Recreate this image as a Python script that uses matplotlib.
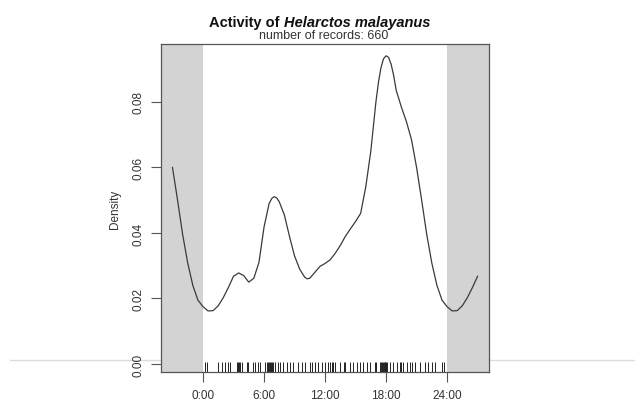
import numpy as np
import matplotlib
matplotlib.use('Agg')
import matplotlib.pyplot as plt
from matplotlib.lines import Line2D

plt.rcParams['font.family'] = ['Liberation Sans', 'DejaVu Sans']

# density (hour of day, density)
hours = [0.0, 0.5, 1.0, 1.5, 2.0, 2.5, 3.0, 3.5, 4.0, 4.5, 5.0, 5.5, 6.0,
         6.5, 6.75, 7.0, 7.25, 7.5, 8.0, 8.5, 9.0, 9.5, 10.0, 10.25, 10.5,
         11.0, 11.5, 12.0, 12.5, 13.0, 13.5, 14.0, 14.5, 15.0, 15.5, 16.0,
         16.5, 16.75, 17.0, 17.25, 17.5, 17.75, 18.0, 18.25, 18.5, 18.75,
         19.0, 19.5, 20.0, 20.5, 21.0, 21.5, 22.0, 22.5, 23.0, 23.5, 24.0]
density = [0.0175, 0.0162, 0.0163, 0.0178, 0.0203, 0.0234, 0.0268, 0.0278,
           0.0270, 0.0250, 0.0262, 0.0310, 0.0418, 0.0490, 0.0505, 0.0511,
           0.0507, 0.0495, 0.0455, 0.0390, 0.0330, 0.0290, 0.0265, 0.0260,
           0.0262, 0.0280, 0.0298, 0.0307, 0.0318, 0.0338, 0.0362, 0.0390,
           0.0413, 0.0435, 0.0460, 0.0540, 0.0650, 0.0725, 0.0800, 0.0860,
           0.0905, 0.0932, 0.0941, 0.0936, 0.0915, 0.0880, 0.0835, 0.0785,
           0.0740, 0.0685, 0.0600, 0.0500, 0.0395, 0.0308, 0.0240, 0.0195,
           0.0175]

# record times (hours) as seen in the rug
records = [0.2, 0.43, 1.5, 1.83, 2.16, 2.49, 2.65,
           3.31, 3.47, 3.55, 3.64, 3.8,
           4.3, 4.46, 4.95, 5.11, 5.44, 5.6,
           6.1, 6.25, 6.4, 6.5, 6.6, 6.7, 6.8, 6.9, 7.08,
           7.4, 7.57, 7.9, 8.23, 8.55, 8.88, 9.37, 9.7, 10.03, 10.52, 10.69,
           11.01, 11.34, 11.67,
           12.0, 12.32, 12.45, 12.65, 12.8, 12.98,
           13.47, 13.9, 14.0, 14.45, 14.78, 15.11, 15.44, 15.76, 16.1, 16.42,
           16.91, 17.0, 17.4, 17.5, 17.57, 17.65, 17.75, 17.85, 17.9, 18.0,
           18.1, 18.39, 18.71,
           19.05, 19.37, 19.5, 19.7, 20.03, 20.35, 20.5, 20.85, 21.34,
           21.83, 22.15, 22.49, 22.81, 23.47, 23.7]

xticks = [0, 6, 12, 18, 24]
xlabels = ['0:00', '6:00', '12:00', '18:00', '24:00']
yticks = [0.00, 0.02, 0.04, 0.06, 0.08]
n_records = 660

# circular data: extend 3 hours on each side
h = np.asarray(hours)
d = np.asarray(density)
xs = np.concatenate([h[h >= 21] - 24, h[1:], h[(h > 0) & (h <= 3)] + 24])
ys = np.concatenate([d[h >= 21], d[1:], d[(h > 0) & (h <= 3)]])

fig = plt.figure(figsize=(6.35, 4.02), dpi=100)
fig.add_artist(Line2D([10/635, 1], [1 - 361/402, 1 - 361/402], color='#dcdcdc',
                      lw=1, zorder=-5))
ax = fig.add_axes([161/635, 1 - 373/402, 328/635, 328/402])

xmin, xmax = -4.13, 28.12
ax.set_xlim(xmin, xmax)
ax.set_ylim(-0.00244, 0.0977)
ax.axvspan(xmin, 0, color='#d3d3d3', lw=0, zorder=0)
ax.axvspan(24, xmax, color='#d3d3d3', lw=0, zorder=0)

ax.plot(xs, ys, color='#3a3a3a', lw=0.9, zorder=3)
ax.vlines(records, 0, 0.03, transform=ax.get_xaxis_transform(),
          color='#222222', lw=0.7, zorder=2)

for s in ax.spines.values():
    s.set_color('#555555')
    s.set_linewidth(0.9)

ax.set_xticks(xticks)
ax.set_xticklabels(xlabels)
ax.set_yticks(yticks)
ax.set_yticklabels(['%.2f' % v for v in yticks], rotation=90, va='center')
ax.tick_params(direction='out', length=7, width=0.8, color='#555555',
               labelsize=8.5, labelcolor='#333333', pad=5)
ax.set_ylabel('Density', fontsize=8.5, color='#333333', labelpad=8)

t1 = fig.text(209/635, 1 - 23/402, 'Activity of ', fontsize=10.5,
              fontweight='bold', va='center', ha='left', color='#111111')
ax.annotate('Helarctos malayanus', xy=(1, 0.5), xycoords=t1, va='center',
            ha='left', fontsize=10.5, fontweight='bold', fontstyle='italic',
            color='#111111', annotation_clip=False)
fig.text(324/635, 1 - 36/402, 'number of records: %d' % n_records,
         fontsize=9, ha='center', va='center', color='#333333')

fig.savefig('out.png', dpi=100)
